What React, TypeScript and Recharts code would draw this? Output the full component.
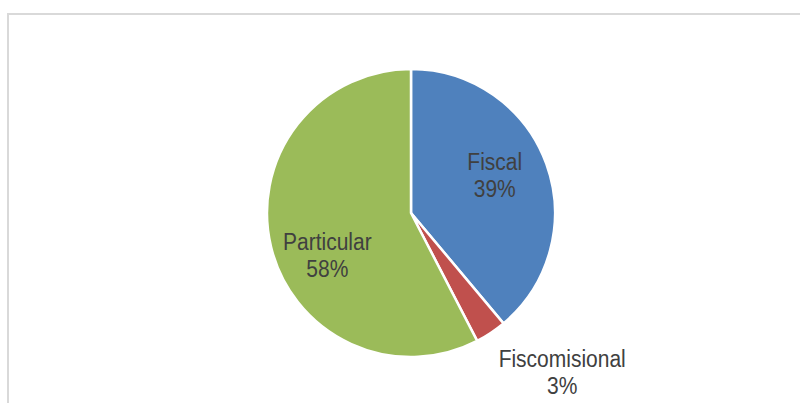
import React from "react";
import { PieChart, Pie, Cell } from "recharts";

const categories = ["Fiscal", "Fiscomisional", "Particular"];
const shares = [38.9, 3.5, 57.6];
const percentLabels = ["39%", "3%", "58%"];

const COLORS = ["#4F81BD", "#C0504D", "#9BBB59"];
// label placement (clockwise degrees from 12 o'clock, fraction of radius)
const LABEL_PLACE = [
  { a: 61.8, f: 0.66 },
  { a: 135.2, f: 1.49 },
  { a: 247.3, f: 0.63 },
];

const data = categories.map((name, i) => ({ name, value: shares[i], pct: percentLabels[i] }));

const renderLabel = (props: any) => {
  const { cx, cy, outerRadius, index } = props;
  const p = LABEL_PLACE[index];
  const rad = (p.a * Math.PI) / 180;
  const r = outerRadius * p.f;
  const x = cx + r * Math.sin(rad);
  const y = cy - r * Math.cos(rad) + 2;
  return (
    <g transform={`translate(${x},${y}) scale(1,1.13)`}>
      <text
        x={0}
        y={0}
        textAnchor="middle"
        fill="#404040"
        fontSize={21}
        fontFamily="'Liberation Sans', Arial, sans-serif"
      >
        <tspan x={0} y={0}>{data[index].name}</tspan>
        <tspan x={0} y={24}>{data[index].pct}</tspan>
      </text>
    </g>
  );
};

export default function App() {
  return (
    <div
      style={{
        position: "fixed",
        left: 0,
        top: 0,
        width: 800,
        height: 403,
        background: "#fff",
        overflow: "hidden",
      }}
    >
      <div
        style={{
          position: "absolute",
          left: 7,
          top: 13,
          width: 820,
          height: 420,
          border: "2px solid #d9d9d9",
          boxSizing: "border-box",
        }}
      />
      <div style={{ position: "absolute", left: 0, top: 0 }}>
        <PieChart width={800} height={403}>
          <Pie
            data={data}
            dataKey="value"
            nameKey="name"
            cx={406}
            cy={208}
            outerRadius={144}
            startAngle={90}
            endAngle={-270}
            stroke="#ffffff"
            strokeWidth={2.5}
            label={renderLabel}
            labelLine={false}
            isAnimationActive={false}
          >
            {data.map((d, i) => (
              <Cell key={d.name} fill={COLORS[i]} />
            ))}
          </Pie>
        </PieChart>
      </div>
    </div>
  );
}
